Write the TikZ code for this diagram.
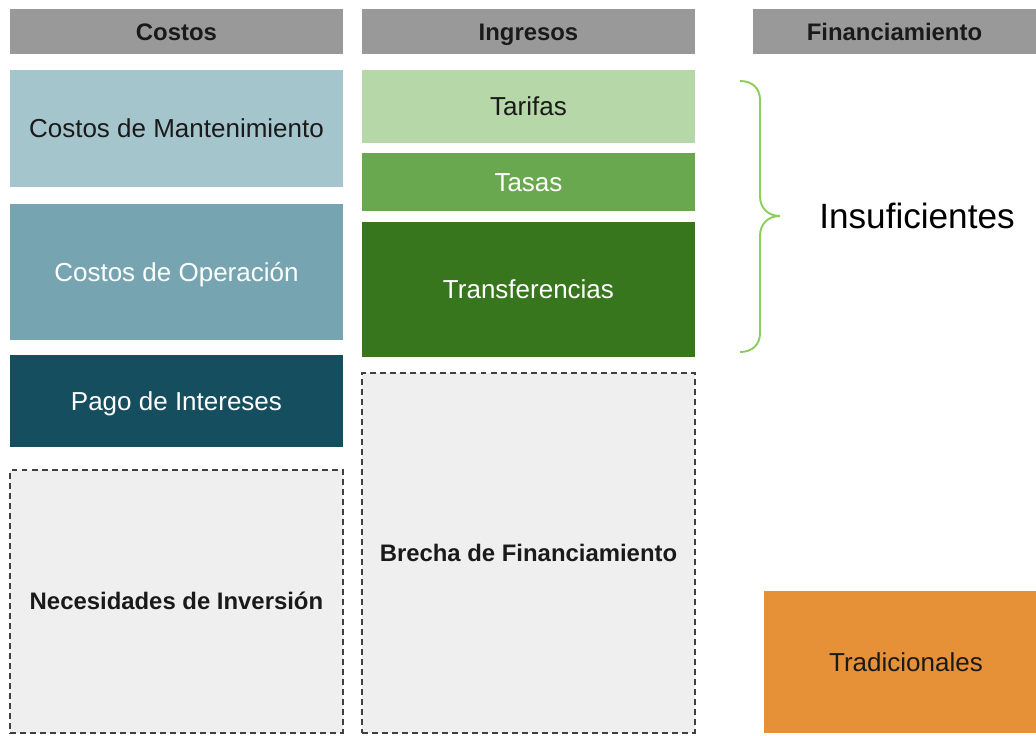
\documentclass[tikz,border=0pt]{standalone}
\usepackage{fontspec}
\setmainfont{Liberation Sans}
\definecolor{hdr}{HTML}{999999}
\definecolor{txt}{HTML}{1A1A1A}
\definecolor{mant}{HTML}{A4C5CC}
\definecolor{oper}{HTML}{76A5B1}
\definecolor{pago}{HTML}{154F5F}
\definecolor{gap}{HTML}{EFEFEF}
\definecolor{tarifa}{HTML}{B6D7A8}
\definecolor{tasa}{HTML}{6AA84F}
\definecolor{transf}{HTML}{38761D}
\definecolor{trad}{HTML}{E69138}
\definecolor{brace}{HTML}{8CCE5A}
\tikzset{
  base/.style={anchor=north west, inner sep=0pt, outer sep=0pt, align=center, text depth=0pt},
  header/.style={base, fill=hdr, text=txt, font=\fontsize{13.6}{16}\selectfont\bfseries, text height=9.7pt, minimum height=0.9cm},
  block/.style={base, font=\fontsize{14.8}{17}\selectfont, text height=10.6pt, minimum width=6.66cm},
  darktxt/.style={text=txt},
  lighttxt/.style={text=white},
  gapbox/.style={base, fill=gap, draw=black!75, line width=0.7pt, dash pattern=on 3.4pt off 2.3pt,
     font=\fontsize{13.6}{16}\selectfont\bfseries, text height=9.7pt, text=txt, minimum width=6.66cm},
}
\begin{document}
\begin{tikzpicture}[x=0.02cm,y=-0.02cm]
\useasboundingbox (0,0) rectangle (1036,736);
% headers
\node[header, minimum width=6.66cm] (hc) at (10,9) {Costos};
\node[header, minimum width=6.66cm] (hi) at (362,9) {Ingresos};
\node[header, minimum width=5.66cm] (hf) at (753,9) {Financiamiento};
% costos
\node[block, fill=mant, darktxt, minimum height=2.34cm] (mant) at (10,70) {Costos de Mantenimiento};
\node[block, fill=oper, lighttxt, minimum height=2.72cm] (oper) at (10,204) {Costos de Operación};
\node[block, fill=pago, lighttxt, minimum height=1.84cm] (pago) at (10,355) {Pago de Intereses};
\node[gapbox, minimum height=5.26cm] (nec) at (10,470) {Necesidades de Inversión};
% ingresos
\node[block, fill=tarifa, darktxt, minimum height=1.46cm] (tar) at (362,70) {Tarifas};
\node[block, fill=tasa, lighttxt, minimum height=1.16cm] (tas) at (362,153) {Tasas};
\node[block, fill=transf, lighttxt, minimum height=2.7cm] (tra) at (362,222) {Transferencias};
\node[gapbox, minimum height=7.2cm] (bre) at (362,373) {Brecha de Financiamiento};
% financiamiento
\node[block, fill=trad, darktxt, minimum width=5.44cm, minimum height=2.84cm] (trad) at (764,591) {\hspace*{0.24cm}Tradicionales};
% brace
\draw[brace, line width=1.1pt]
  (740,81) .. controls (752,81) and (760,88) .. (760,100) -- (760,196)
  .. controls (760,208) and (768,216) .. (780,216)
  .. controls (768,216) and (760,224) .. (760,236) -- (760,333)
  .. controls (760,345) and (752,352) .. (740,352);
\node[font=\fontsize{20}{24}\selectfont, text=black, inner sep=0pt, text height=14.3pt, text depth=0pt] (ins) at (917,216) {Insuficientes};
\end{tikzpicture}
\end{document}
